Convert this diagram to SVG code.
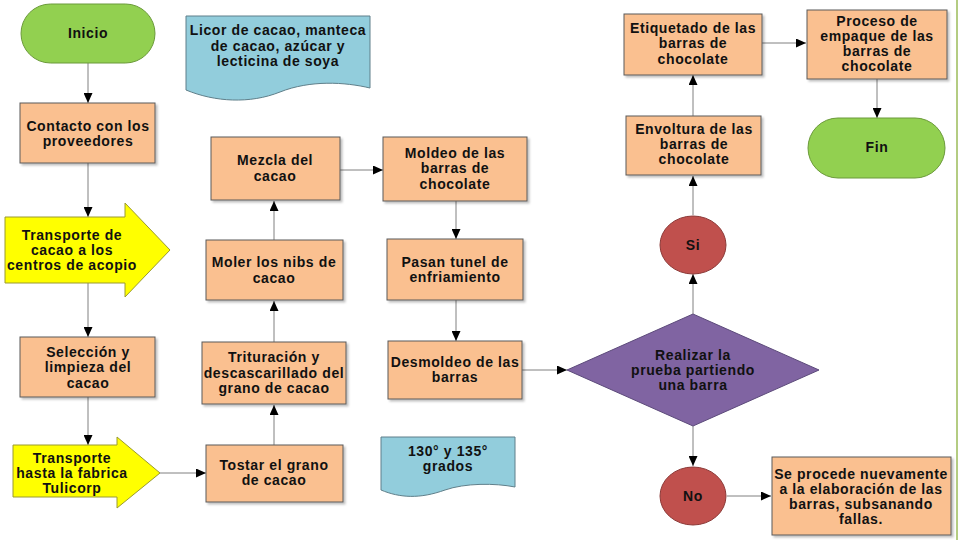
<svg xmlns="http://www.w3.org/2000/svg" width="960" height="540" viewBox="0 0 960 540">
<defs>
<style>
text{font-family:"Liberation Sans",Arial,sans-serif;font-weight:bold;font-size:14px;fill:#111;text-anchor:middle;letter-spacing:0.6px}
.box{fill:#FAC090;stroke:#5a5a5a;stroke-width:1}
.term{fill:#92D050;stroke:#6B9A3A;stroke-width:1}
.yarrow{fill:#FFFF00;stroke:#9a9a30;stroke-width:1}
.doc{fill:#92CDDC;stroke:#5f7f8a;stroke-width:1}
.dec{fill:#8064A2;stroke:#5c4a7a;stroke-width:1}
.circ{fill:#C0504D;stroke:#8c3a38;stroke-width:1}
.con{stroke:#808080;stroke-width:1;fill:none;marker-end:url(#ah)}
</style>
<marker id="ah" markerUnits="userSpaceOnUse" markerWidth="10" markerHeight="9" refX="10" refY="4.5" orient="auto">
<path d="M0,0 L10,4.5 L0,9 Z" fill="#000"/>
</marker>
<filter id="sh" x="-10%" y="-10%" width="125%" height="130%">
<feDropShadow dx="2" dy="2" stdDeviation="1" flood-color="#000" flood-opacity="0.25"/>
</filter>
</defs>
<rect width="960" height="540" fill="#fff"/>
<line x1="957" y1="0" x2="957" y2="540" stroke="#9BBB59" stroke-width="1.5"/>

<g id="connectors">
<line class="con" x1="88" y1="63" x2="88" y2="103"/>
<line class="con" x1="88" y1="163" x2="88" y2="217"/>
<line class="con" x1="88" y1="283" x2="88" y2="337"/>
<line class="con" x1="88" y1="397" x2="88" y2="445"/>
<line class="con" x1="160" y1="473" x2="206" y2="473"/>
<line class="con" x1="274" y1="445" x2="274" y2="405"/>
<line class="con" x1="274" y1="342" x2="274" y2="301"/>
<line class="con" x1="274" y1="240" x2="274" y2="201"/>
<line class="con" x1="340" y1="170" x2="383" y2="170"/>
<line class="con" x1="456" y1="201" x2="456" y2="239"/>
<line class="con" x1="456" y1="300" x2="456" y2="341"/>
<line class="con" x1="522" y1="370" x2="567" y2="370"/>
<line class="con" x1="693" y1="314" x2="693" y2="274"/>
<line class="con" x1="693" y1="215" x2="693" y2="176"/>
<line class="con" x1="693" y1="116" x2="693" y2="75"/>
<line class="con" x1="762" y1="43" x2="806" y2="43"/>
<line class="con" x1="877" y1="79" x2="877" y2="118"/>
<line class="con" x1="693" y1="426" x2="693" y2="466"/>
<line class="con" x1="727" y1="496" x2="771" y2="496"/>
</g>

<g id="inicio">
<rect class="term" x="21" y="4" width="134" height="59" rx="29.5"/>
<text x="88" y="38">Inicio</text>
</g>

<g id="contacto">
<rect class="box" x="20" y="103" width="135" height="60" filter="url(#sh)"/>
<text x="88" y="131">Contacto con los</text>
<text x="88" y="146">proveedores</text>
</g>

<g id="transporte-acopio">
<path class="yarrow" d="M5,217 H125 V203 L170,250 L125,297 V283 H5 Z"/>
<text x="72" y="240">Transporte de</text>
<text x="72" y="255">cacao a los</text>
<text x="72" y="270">centros de acopio</text>
</g>

<g id="seleccion">
<rect class="box" x="20" y="337" width="135" height="60" filter="url(#sh)"/>
<text x="88" y="357">Selección y</text>
<text x="88" y="372">limpieza del</text>
<text x="88" y="388">cacao</text>
</g>

<g id="transporte-fabrica">
<path class="yarrow" d="M13,445 H117 V437 L160,473 L117,508 V497 H13 Z"/>
<text x="72" y="463">Transporte</text>
<text x="72" y="478">hasta la fabrica</text>
<text x="72" y="493">Tulicorp</text>
</g>

<g id="tostar">
<rect class="box" x="206" y="445" width="137" height="57" filter="url(#sh)"/>
<text x="274" y="470">Tostar el grano</text>
<text x="274" y="485">de cacao</text>
</g>

<g id="trituracion">
<rect class="box" x="202" y="342" width="144" height="62" filter="url(#sh)"/>
<text x="274" y="362">Trituración y</text>
<text x="274" y="378">descascarillado del</text>
<text x="274" y="393">grano de cacao</text>
</g>

<g id="moler">
<rect class="box" x="206" y="240" width="137" height="60" filter="url(#sh)"/>
<text x="274" y="267">Moler los nibs de</text>
<text x="274" y="283">cacao</text>
</g>

<g id="mezcla">
<rect class="box" x="211" y="137" width="129" height="63" filter="url(#sh)"/>
<text x="275" y="165">Mezcla del</text>
<text x="275" y="181">cacao</text>
</g>

<g id="licor">
<path class="doc" d="M186,16 H370 V88 C345,82 310,80 280,92 C250,104 215,102 186,90 Z"/>
<text x="278" y="35">Licor de cacao, manteca</text>
<text x="278" y="51">de cacao, azúcar y</text>
<text x="278" y="66">lecticina de soya</text>
</g>

<g id="moldeo">
<rect class="box" x="383" y="137" width="144" height="64" filter="url(#sh)"/>
<text x="455" y="158">Moldeo de las</text>
<text x="455" y="173">barras de</text>
<text x="455" y="189">chocolate</text>
</g>

<g id="pasan">
<rect class="box" x="387" y="239" width="136" height="61" filter="url(#sh)"/>
<text x="455" y="267">Pasan tunel de</text>
<text x="455" y="282">enfriamiento</text>
</g>

<g id="desmoldeo">
<rect class="box" x="388" y="341" width="134" height="58" filter="url(#sh)"/>
<text x="455" y="367">Desmoldeo de las</text>
<text x="455" y="382">barras</text>
</g>

<g id="grados">
<path class="doc" d="M381,437 H515 V487 C495,483 465,483 445,490 C420,499 400,498 381,490 Z"/>
<text x="448" y="456">130° y 135°</text>
<text x="448" y="471">grados</text>
</g>

<g id="prueba">
<path class="dec" d="M567,370 L693,314 L819,370 L693,426 Z"/>
<text x="693" y="360">Realizar la</text>
<text x="693" y="375">prueba partiendo</text>
<text x="693" y="390">una barra</text>
</g>

<g id="si">
<ellipse class="circ" cx="693" cy="245" rx="33" ry="29"/>
<text x="693" y="250">Si</text>
</g>

<g id="no">
<ellipse class="circ" cx="693" cy="496" rx="33" ry="29"/>
<text x="693" y="501">No</text>
</g>

<g id="envoltura">
<rect class="box" x="626" y="116" width="135" height="59" filter="url(#sh)"/>
<text x="694" y="134">Envoltura de las</text>
<text x="694" y="149">barras de</text>
<text x="694" y="164">chocolate</text>
</g>

<g id="etiquetado">
<rect class="box" x="624" y="14" width="138" height="61" filter="url(#sh)"/>
<text x="693" y="33">Etiquetado de las</text>
<text x="693" y="48">barras de</text>
<text x="693" y="64">chocolate</text>
</g>

<g id="proceso">
<rect class="box" x="807" y="10" width="140" height="69" filter="url(#sh)"/>
<text x="877" y="26">Proceso de</text>
<text x="877" y="41">empaque de las</text>
<text x="877" y="56">barras de</text>
<text x="877" y="71">chocolate</text>
</g>

<g id="fin">
<rect class="term" x="808" y="118" width="137" height="60" rx="30"/>
<text x="877" y="152">Fin</text>
</g>

<g id="se-procede">
<rect class="box" x="772" y="457" width="179" height="78" filter="url(#sh)"/>
<text x="861" y="479">Se procede nuevamente</text>
<text x="861" y="494">a la elaboración de las</text>
<text x="861" y="509">barras, subsanando</text>
<text x="861" y="524">fallas.</text>
</g>
</svg>
